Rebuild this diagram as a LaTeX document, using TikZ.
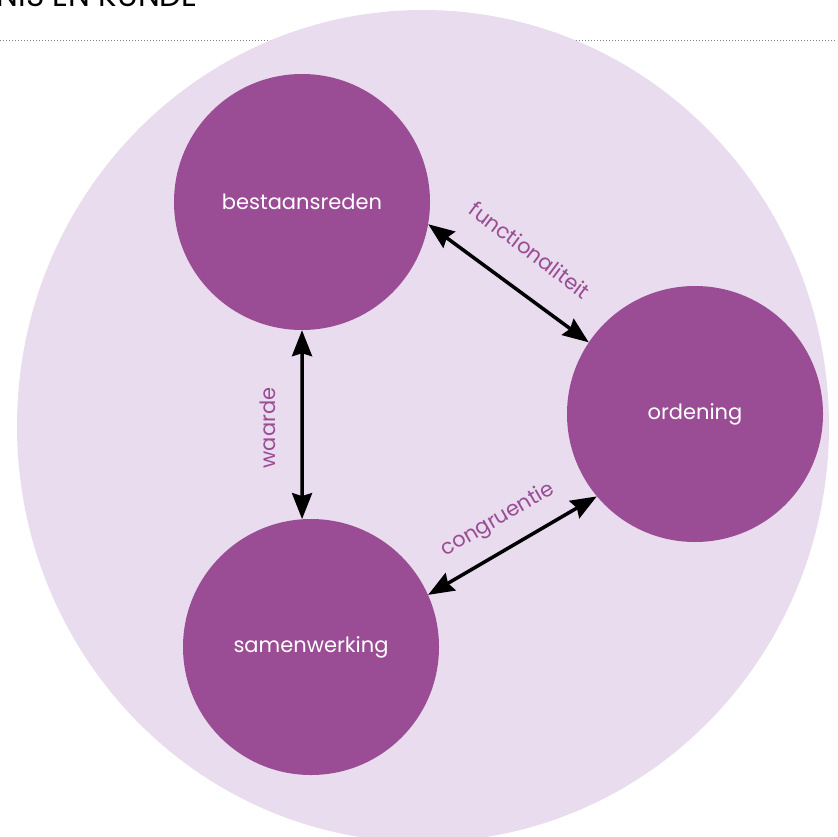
\documentclass[tikz,border=0pt]{standalone}
\usepackage{fontspec}
\setmainfont{Poppins}
\usetikzlibrary{arrows.meta}
\definecolor{plum}{RGB}{154,76,148}
\definecolor{lilac}{RGB}{232,220,238}
\tikzset{
  pillar/.style={circle,fill=plum,inner sep=0pt,minimum size=256pt,text=white,font=\fontsize{21}{24}\selectfont},
  lbl/.style={text=plum,inner sep=0pt,font=\fontsize{21}{24}\selectfont},
  link/.style={{Stealth[length=26pt,width=20pt,inset=3pt]}-{Stealth[length=26pt,width=20pt,inset=3pt]},line width=3.5pt}
}
\begin{document}
\begin{tikzpicture}[x=1pt,y=-1pt]
\useasboundingbox (0,0) rectangle (837,837);
\clip (0,0) rectangle (837,837);
\node[anchor=base east,inner sep=0pt,font=\fontsize{31}{34}\selectfont] (kop) at (198,7) {NIS EN KUNDE};
\draw[gray,dotted,line width=1pt] (0,41) -- (837,41);
\fill[lilac] (423,426) ellipse [x radius=406,y radius=416];
\node[pillar] (best) at (302,202) {bestaansreden};
\node[pillar] (ord) at (695,414) {ordening};
\node[pillar] (same) at (311,647) {samenwerking};
\draw[link] (best.south) -- (same.94);
\draw[link] (best.-10) -- (ord.146);
\draw[link] (same.24) -- (ord.220);
\node[lbl,rotate=90] (waarde) at (268,428) {waarde};
\node[lbl,rotate=-37] (functie) at (530,250) {functionaliteit};
\node[lbl,rotate=30] (congr) at (498,520) {congruentie};
\end{tikzpicture}
\end{document}
